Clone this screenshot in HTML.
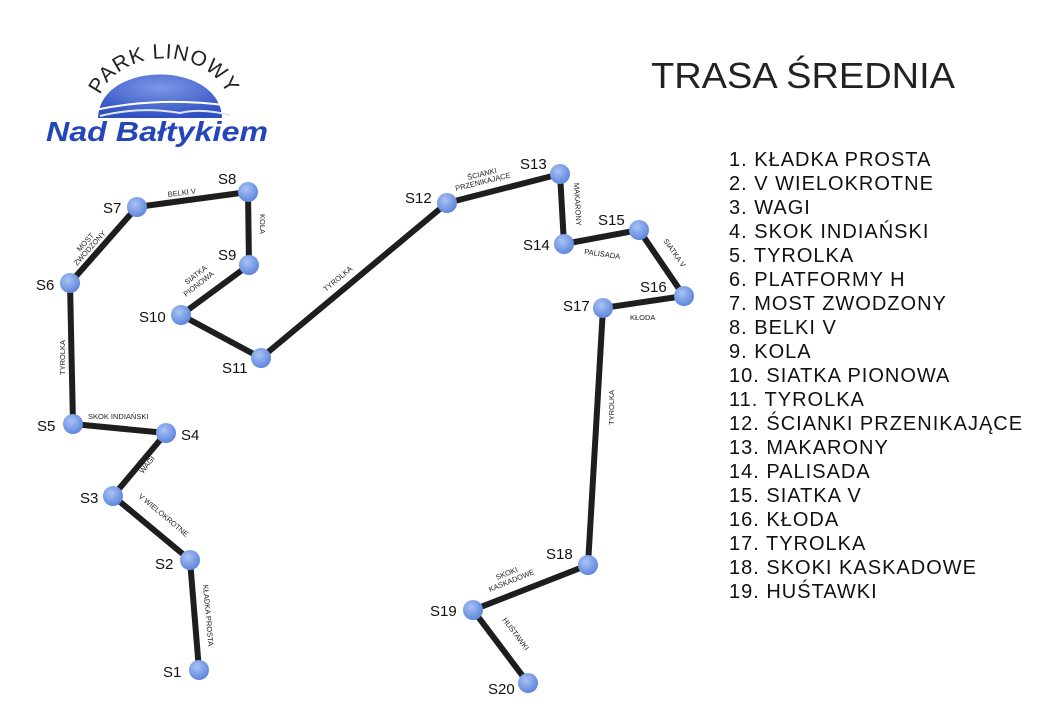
<!DOCTYPE html>
<html><head><meta charset="utf-8"><style>
html,body{margin:0;padding:0;background:#fff;width:1043px;height:720px;overflow:hidden}
svg{display:block}
text{font-family:"Liberation Sans",sans-serif}
</style></head><body>
<svg width="1043" height="720" viewBox="0 0 1043 720">
<defs>
<radialGradient id="g" cx="40%" cy="35%" r="65%"><stop offset="0" stop-color="#a9c3f5"/><stop offset="1" stop-color="#5f86dc"/></radialGradient>
<radialGradient id="sun" cx="50%" cy="30%" r="70%"><stop offset="0" stop-color="#7a98e6"/><stop offset="1" stop-color="#2f4fc0"/></radialGradient>
<path id="arc" d="M96,114 A66,54 0 0 1 232,114"/>
</defs>
<!-- logo -->
<path d="M98,118 C100,60 220,60 222,118 Z" fill="url(#sun)"/>
<path d="M95,110 Q160,96 232,106" stroke="#fff" stroke-width="2" fill="none"/>
<path d="M100,116 Q140,106 180,113 Q200,108 230,115" stroke="#dfe6fb" stroke-width="2" fill="none"/>
<text font-family="Liberation Serif" font-size="21" fill="#222" letter-spacing="1"><textPath href="#arc" startOffset="50%" text-anchor="middle">PARK LINOWY</textPath></text>
<text x="46" y="141" font-size="28" font-weight="bold" font-style="italic" fill="#2546b8" textLength="222" lengthAdjust="spacingAndGlyphs">Nad Bałtykiem</text>
<!-- title -->
<text x="651" y="88" font-size="36" fill="#222" textLength="304" lengthAdjust="spacingAndGlyphs">TRASA ŚREDNIA</text>
<g font-size="20" fill="#111" letter-spacing="1">
<text x="729" y="166">1. KŁADKA PROSTA</text>
<text x="729" y="190">2. V WIELOKROTNE</text>
<text x="729" y="214">3. WAGI</text>
<text x="729" y="238">4. SKOK INDIAŃSKI</text>
<text x="729" y="262">5. TYROLKA</text>
<text x="729" y="286">6. PLATFORMY H</text>
<text x="729" y="310">7. MOST ZWODZONY</text>
<text x="729" y="334">8. BELKI V</text>
<text x="729" y="358">9. KOLA</text>
<text x="729" y="382">10. SIATKA PIONOWA</text>
<text x="729" y="406">11. TYROLKA</text>
<text x="729" y="430">12. ŚCIANKI PRZENIKAJĄCE</text>
<text x="729" y="454">13. MAKARONY</text>
<text x="729" y="478">14. PALISADA</text>
<text x="729" y="502">15. SIATKA V</text>
<text x="729" y="526">16. KŁODA</text>
<text x="729" y="550">17. TYROLKA</text>
<text x="729" y="574">18. SKOKI KASKADOWE</text>
<text x="729" y="598">19. HUŚTAWKI</text>
</g>
<!-- paths -->
<g stroke="#1e1e1e" stroke-width="6" fill="none" stroke-linejoin="round">
<polyline points="199,670 190,560 113,496 166,433 73,424 70,283 137,207 248,192 249,265 181,315 261,358 447,203 560,174 564,244 639,230 684,296 603,308 588,565 473,610 528,683"/>
</g>
<g fill="url(#g)">
<circle cx="199" cy="670" r="10"/><circle cx="190" cy="560" r="10"/><circle cx="113" cy="496" r="10"/><circle cx="166" cy="433" r="10"/><circle cx="73" cy="424" r="10"/><circle cx="70" cy="283" r="10"/><circle cx="137" cy="207" r="10"/><circle cx="248" cy="192" r="10"/><circle cx="249" cy="265" r="10"/><circle cx="181" cy="315" r="10"/><circle cx="261" cy="358" r="10"/><circle cx="447" cy="203" r="10"/><circle cx="560" cy="174" r="10"/><circle cx="564" cy="244" r="10"/><circle cx="639" cy="230" r="10"/><circle cx="684" cy="296" r="10"/><circle cx="603" cy="308" r="10"/><circle cx="588" cy="565" r="10"/><circle cx="473" cy="610" r="10"/><circle cx="528" cy="683" r="10"/>
</g>
<g font-size="15" fill="#111">
<text x="163" y="677">S1</text><text x="155" y="569">S2</text><text x="80" y="503">S3</text><text x="181" y="440">S4</text><text x="37" y="431">S5</text><text x="36" y="290">S6</text><text x="103" y="213">S7</text><text x="218" y="184">S8</text><text x="218" y="260">S9</text><text x="139" y="322">S10</text><text x="222" y="373">S11</text><text x="405" y="203">S12</text><text x="520" y="169">S13</text><text x="523" y="250">S14</text><text x="598" y="225">S15</text><text x="640" y="292">S16</text><text x="563" y="311">S17</text><text x="546" y="559">S18</text><text x="430" y="616">S19</text><text x="488" y="694">S20</text>
</g>
<g font-size="7.5" fill="#222">
<text transform="translate(203,585) rotate(85)">KŁADKA PROSTA</text>
<text transform="translate(138,497) rotate(40)">V WIELOKROTNE</text>
<text transform="translate(143,474) rotate(-52)">WAGI</text>
<text x="88" y="419">SKOK INDIAŃSKI</text>
<text transform="translate(65,375) rotate(-90)">TYROLKA</text>
<text transform="translate(80,252) rotate(-48)">MOST</text>
<text transform="translate(77,266) rotate(-48)">ZWODZONY</text>
<text transform="translate(168,197) rotate(-7)">BELKI V</text>
<text transform="translate(260,214) rotate(90)">KOLA</text>
<text transform="translate(187,285) rotate(-38)">SIATKA</text>
<text transform="translate(186,297) rotate(-38)">PIONOWA</text>
<text transform="translate(326,292) rotate(-40)">TYROLKA</text>
<text transform="translate(468,180) rotate(-14)">ŚCIANKI</text>
<text transform="translate(456,191) rotate(-14)">PRZENIKAJĄCE</text>
<text transform="translate(574,183) rotate(87)">MAKARONY</text>
<text transform="translate(584,254) rotate(8)">PALISADA</text>
<text transform="translate(663,241) rotate(55)">SIATKA V</text>
<text x="630" y="320">KŁODA</text>
<text transform="translate(614,425) rotate(-90)">TYROLKA</text>
<text transform="translate(497,580) rotate(-22)">SKOKI</text>
<text transform="translate(490,592) rotate(-22)">KASKADOWE</text>
<text transform="translate(502,620) rotate(53)">HUŚTAWKI</text>
</g>
</svg>
</body></html>
